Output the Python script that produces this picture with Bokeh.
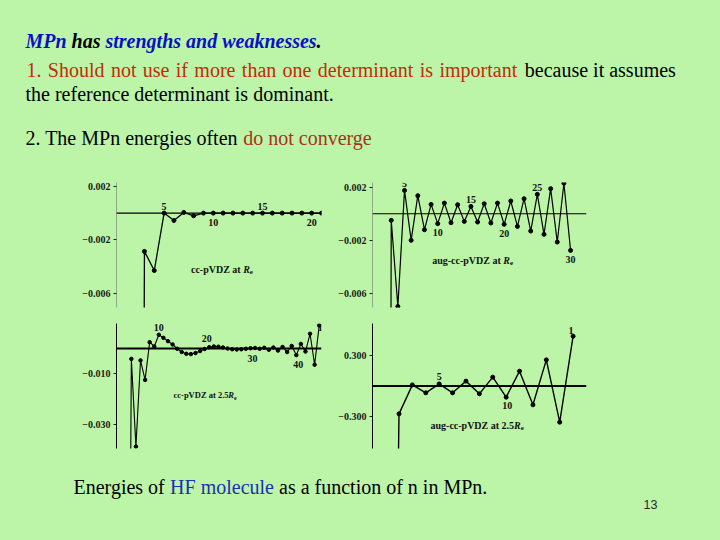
from bokeh.plotting import figure
from bokeh.layouts import column, row
from bokeh.models import (Range1d, FixedTicker, CustomJSTickFormatter, Span,
                          ColumnDataSource, LabelSet, Label, GlobalInlineStyleSheet)
from bokeh.core.properties import value
from bokeh.embed import file_html
from bokeh.resources import INLINE

# ---------------- data ----------------
# Panel 1: cc-pVDZ at Re
p1_n = [2, 3, 4, 5, 6, 7, 8, 9, 10, 11, 12, 13, 14, 15, 16, 17, 18, 19, 20, 21]
p1_e = [-0.2, -0.00285, -0.00427, 0.0, -0.00055, 0.00005, -0.0002, 0.0, 0.0, 0.0,
        0.0, 0.0, 0.0, 0.0, 0.0, 0.0, 0.0, 0.0, 0.0, 0.0]
p1_lab = ["5", "10", "15", "20"]
p1_lab_n = [5, 10, 15, 20]

# Panel 2: aug-cc-pVDZ at Re
p2_n = [2, 3, 4, 5, 6, 7, 8, 9, 10, 11, 12, 13, 14, 15, 16, 17, 18, 19, 20, 21,
        22, 23, 24, 25, 26, 27, 28, 29, 30]
p2_e = [-0.2, -0.0005, -0.0070, 0.00176, -0.00201, 0.00136, -0.00121, 0.00070,
        -0.00075, 0.00080, -0.00068, 0.00068, -0.00058, 0.00055, -0.00063, 0.00075,
        -0.00070, 0.00080, -0.00080, 0.00096, -0.00096, 0.00113, -0.00131, 0.00146,
        -0.00156, 0.00189, -0.00214, 0.00230, -0.00277]
p2_lab = ["5", "10", "15", "20", "25", "30"]
p2_lab_n = [5, 10, 15, 20, 25, 30]

# Panel 3: cc-pVDZ at 2.5 Re
p3_n = [3, 4, 5, 6, 7, 8, 9, 10, 11, 12, 13, 14, 15, 16, 17, 18, 19, 20, 21, 22,
        23, 24, 25, 26, 27, 28, 29, 30, 31, 32, 33, 34, 35, 36, 37, 38, 39, 40, 41,
        42, 43, 44, 45]
p3_e = [-0.3, -0.0041, -0.0387, -0.0047, -0.0124, 0.0025, 0.0008, 0.0054, 0.0042,
        0.0029, 0.0016, -0.0001, -0.0014, -0.0021, -0.0022, -0.0018, -0.0010,
        -0.0002, 0.0005, 0.0008, 0.0007, 0.0004, 0.0000, -0.0003, -0.0004, -0.0003,
        -0.0001, 0.0001, 0.0002, -0.0001, 0.0003, -0.0005, 0.0004, -0.0008, 0.0006,
        -0.0014, 0.0010, -0.0026, 0.0018, -0.0012, 0.0058, -0.0064, 0.0091]
p3_lab = ["10", "20", "30", "40", "1"]
p3_lab_n = [10, 20, 30, 40, 45]

# Panel 4: aug-cc-pVDZ at 2.5 Re
p4_n = [1, 2, 3, 4, 5, 6, 7, 8, 9, 10, 11, 12, 13, 14, 15]
p4_e = [-10.0, -0.274, 0.011, -0.067, 0.021, -0.067, 0.048, -0.077, 0.087, -0.11,
        0.146, -0.185, 0.257, -0.356, 0.49]
p4_lab = ["5", "10", "1"]
p4_lab_n = [5, 10, 15]

# tick values
p1_ticks = [0.002, -0.002, -0.006]
p2_ticks = [0.002, -0.002, -0.006]
p3_ticks = [-0.010, -0.030]
p4_ticks = [0.300, -0.300]

# slide texts
title_blue = ["MPn", "strengths and weaknesses"]
title_black = ["has", "."]
point1_words = ["1.", "Should", "not", "use", "if", "more", "than", "one",
                "determinant", "is", "important"]
point1_rest = "because it assumes"
point1_line2 = "the reference determinant is dominant."
point2_parts = ["2. The MPn energies often", "do not converge"]
caption_parts = ["Energies of", "HF molecule", "as a function of n in MPn."]
page_no = "13"

# ---------------- style ----------------
BG = "#BCF5A7"
RED = "#C42A0C"
RED2 = "#A8321A"
BLUE = "#0A10C8"
BLUE2 = "#1A2FB5"
SERIF = "Liberation Serif"

Y1, Y2, Y3, Y4 = 40.3, 69.7, 93.7, 137.0
YC, YP = 486.0, 504.3


def text_fig(h, y0, y1):
    f = figure(width=704, height=h, x_range=Range1d(0, 704), y_range=Range1d(y1, y0),
               output_backend="svg", toolbar_location=None, x_axis_location=None,
               y_axis_location=None, min_border=0, background_fill_color=BG,
               border_fill_color=BG, outline_line_color=None)
    f.grid.visible = False
    return f


def put(f, xs, y, texts, color, size="20px", style="normal", font=SERIF):
    f.text(x=xs, y=[y] * len(xs), text=texts, text_font=value(font), text_font_size=size,
           text_font_style=style, text_color=color, text_baseline="alphabetic",
           text_align="left")


# ---- top text ----
top = text_fig(170, 0, 170)
put(top, [25, 105], Y1, title_blue, BLUE, style="bold italic")
put(top, [71.1, 316.1], Y1, title_black, "black", style="bold italic")
w_x = [26.0, 47.35, 110.38, 142.29, 175.3, 193.87, 241.32, 282.11, 317.34, 419.23, 438.92]
put(top, w_x, Y2, point1_words, RED)
put(top, [524.3], Y2, [point1_rest], "black")
put(top, [25], Y3, [point1_line2], "black")
put(top, [25], Y4, [point2_parts[0]], "black")
put(top, [242.7], Y4, [point2_parts[1]], RED2)

# ---- bottom text ----
bot = text_fig(64, 460, 524)
put(bot, [73], YC, [caption_parts[0]], "black")
put(bot, [169.6], YC, [caption_parts[1]], BLUE2)
put(bot, [278.5], YC, [caption_parts[2]], "black")
put(bot, [643], YP, [page_no], "#2a2a2a", size="12.5px", font="Liberation Sans")

FMT = "return (tick < 0 ? '\u2212' : '') + Math.abs(tick).toFixed(3);"


def panel(width, height, lb, rb, tb, bb, xr, yr, ticks, axis_color, zero_w):
    p = figure(width=width, height=height, x_range=Range1d(*xr), y_range=Range1d(*yr),
               output_backend="svg", toolbar_location=None, x_axis_location=None,
               y_axis_location="left", min_border_left=lb, min_border_right=rb,
               min_border_top=tb, min_border_bottom=bb, background_fill_color=BG,
               border_fill_color=BG, outline_line_color=None)
    p.grid.visible = False
    ax = p.yaxis[0]
    ax.ticker = FixedTicker(ticks=ticks)
    ax.formatter = CustomJSTickFormatter(code=FMT)
    ax.major_tick_out = 3
    ax.major_tick_in = 0
    ax.minor_tick_out = 0
    ax.minor_tick_in = 0
    ax.axis_line_color = axis_color
    ax.major_tick_line_color = "#222222"
    ax.major_label_text_font = SERIF
    ax.major_label_text_font_style = "bold"
    ax.major_label_text_font_size = "10px"
    ax.major_label_text_color = "#1a1a1a"
    ax.major_label_standoff = 3
    p.add_layout(Span(location=0, dimension="width", line_color="black", line_width=zero_w))
    return p


def series(p, n, e, lw=1.3, ms=4):
    p.line(n, e, line_color="black", line_width=lw)
    p.scatter(n, e, size=ms, color="black")


def nlabels(p, n, e, lab_n, labs, yoffs, xoffs=None):
    ys = [e[n.index(k)] for k in lab_n]
    src = ColumnDataSource(dict(x=lab_n, y=ys, t=labs, yo=yoffs,
                                xo=xoffs if xoffs else [0] * len(labs)))
    p.add_layout(LabelSet(x="x", y="y", text="t", y_offset="yo", x_offset="xo", source=src,
                          text_align="center", text_baseline="middle",
                          text_font=value(SERIF), text_font_style="bold",
                          text_font_size="10px", text_color="#111111"))


def name_label(p, x, y, main, extra_w, size=10):
    f = size / 10.0
    p.add_layout(Label(x=x, y=y, text=main, text_font=SERIF, text_font_style="bold",
                       text_font_size=f"{size}px", text_baseline="middle",
                       text_color="#111111"))
    p.add_layout(Label(x=x, y=y, text="R", x_offset=extra_w, text_font=SERIF,
                       text_font_style="bold italic", text_font_size=f"{size}px",
                       text_baseline="middle", text_color="#111111"))
    p.add_layout(Label(x=x, y=y, text="e", x_offset=extra_w + 6.7 * f, y_offset=-3,
                       text_font=SERIF, text_font_style="bold",
                       text_font_size=f"{size * 0.7:.1f}px", text_baseline="middle",
                       text_color="#111111"))


UP, DN = 6.5, -9

p1 = panel(330, 145, 116, 9, 12, 8, (0.16, 21.0), (-0.00702, 0.002275), p1_ticks, "#8fa88a", 1.3)
series(p1, p1_n, p1_e)
nlabels(p1, p1_n, p1_e, p1_lab_n, p1_lab, [UP, DN, UP, DN])
name_label(p1, 7.73, -0.004193, "cc-pVDZ at ", 52.2)

p2 = panel(374, 145, 42, 118, 12, 8, (0.18, 32.4), (-0.00708, 0.002355), p2_ticks, "#8fa88a", 1.1)
series(p2, p2_n, p2_e, lw=1.2)
nlabels(p2, p2_n, p2_e, p2_lab_n, p2_lab, [UP, DN, UP, DN, UP, DN])
name_label(p2, 9.17, -0.003532, "aug-cc-pVDZ at ", 71.1)

p3 = panel(330, 145, 116, 9, 8, 12, (0.76, 45.5), (-0.03945, 0.00986), p3_ticks, "black", 2.0)
series(p3, p3_n, p3_e, lw=1.1, ms=3.5)
nlabels(p3, p3_n, p3_e, p3_lab_n, p3_lab, [7, 11, -10, -9, -2], [0, 2, 2, 2, 1])
name_label(p3, 13.2, -0.01854, "cc-pVDZ at 2.5", 54.7, size=8.5)

p4 = panel(374, 145, 42, 118, 8, 12, (0.02, 16.0), (-0.6146, 0.6146), p4_ticks, "black", 2.0)
series(p4, p4_n, p4_e, lw=1.4)
nlabels(p4, p4_n, p4_e, p4_lab_n, p4_lab, [7, -8, 6], [0, 1, -2])
name_label(p4, 4.35, -0.388, "aug-cc-pVDZ at 2.5", 83.6)

layout = column(top, row(column(p1, p3), column(p2, p4)), bot)
layout.stylesheets = [GlobalInlineStyleSheet(css=f"html, body {{ background: {BG}; }}")]

open("out.html", "w").write(file_html(layout, INLINE))
